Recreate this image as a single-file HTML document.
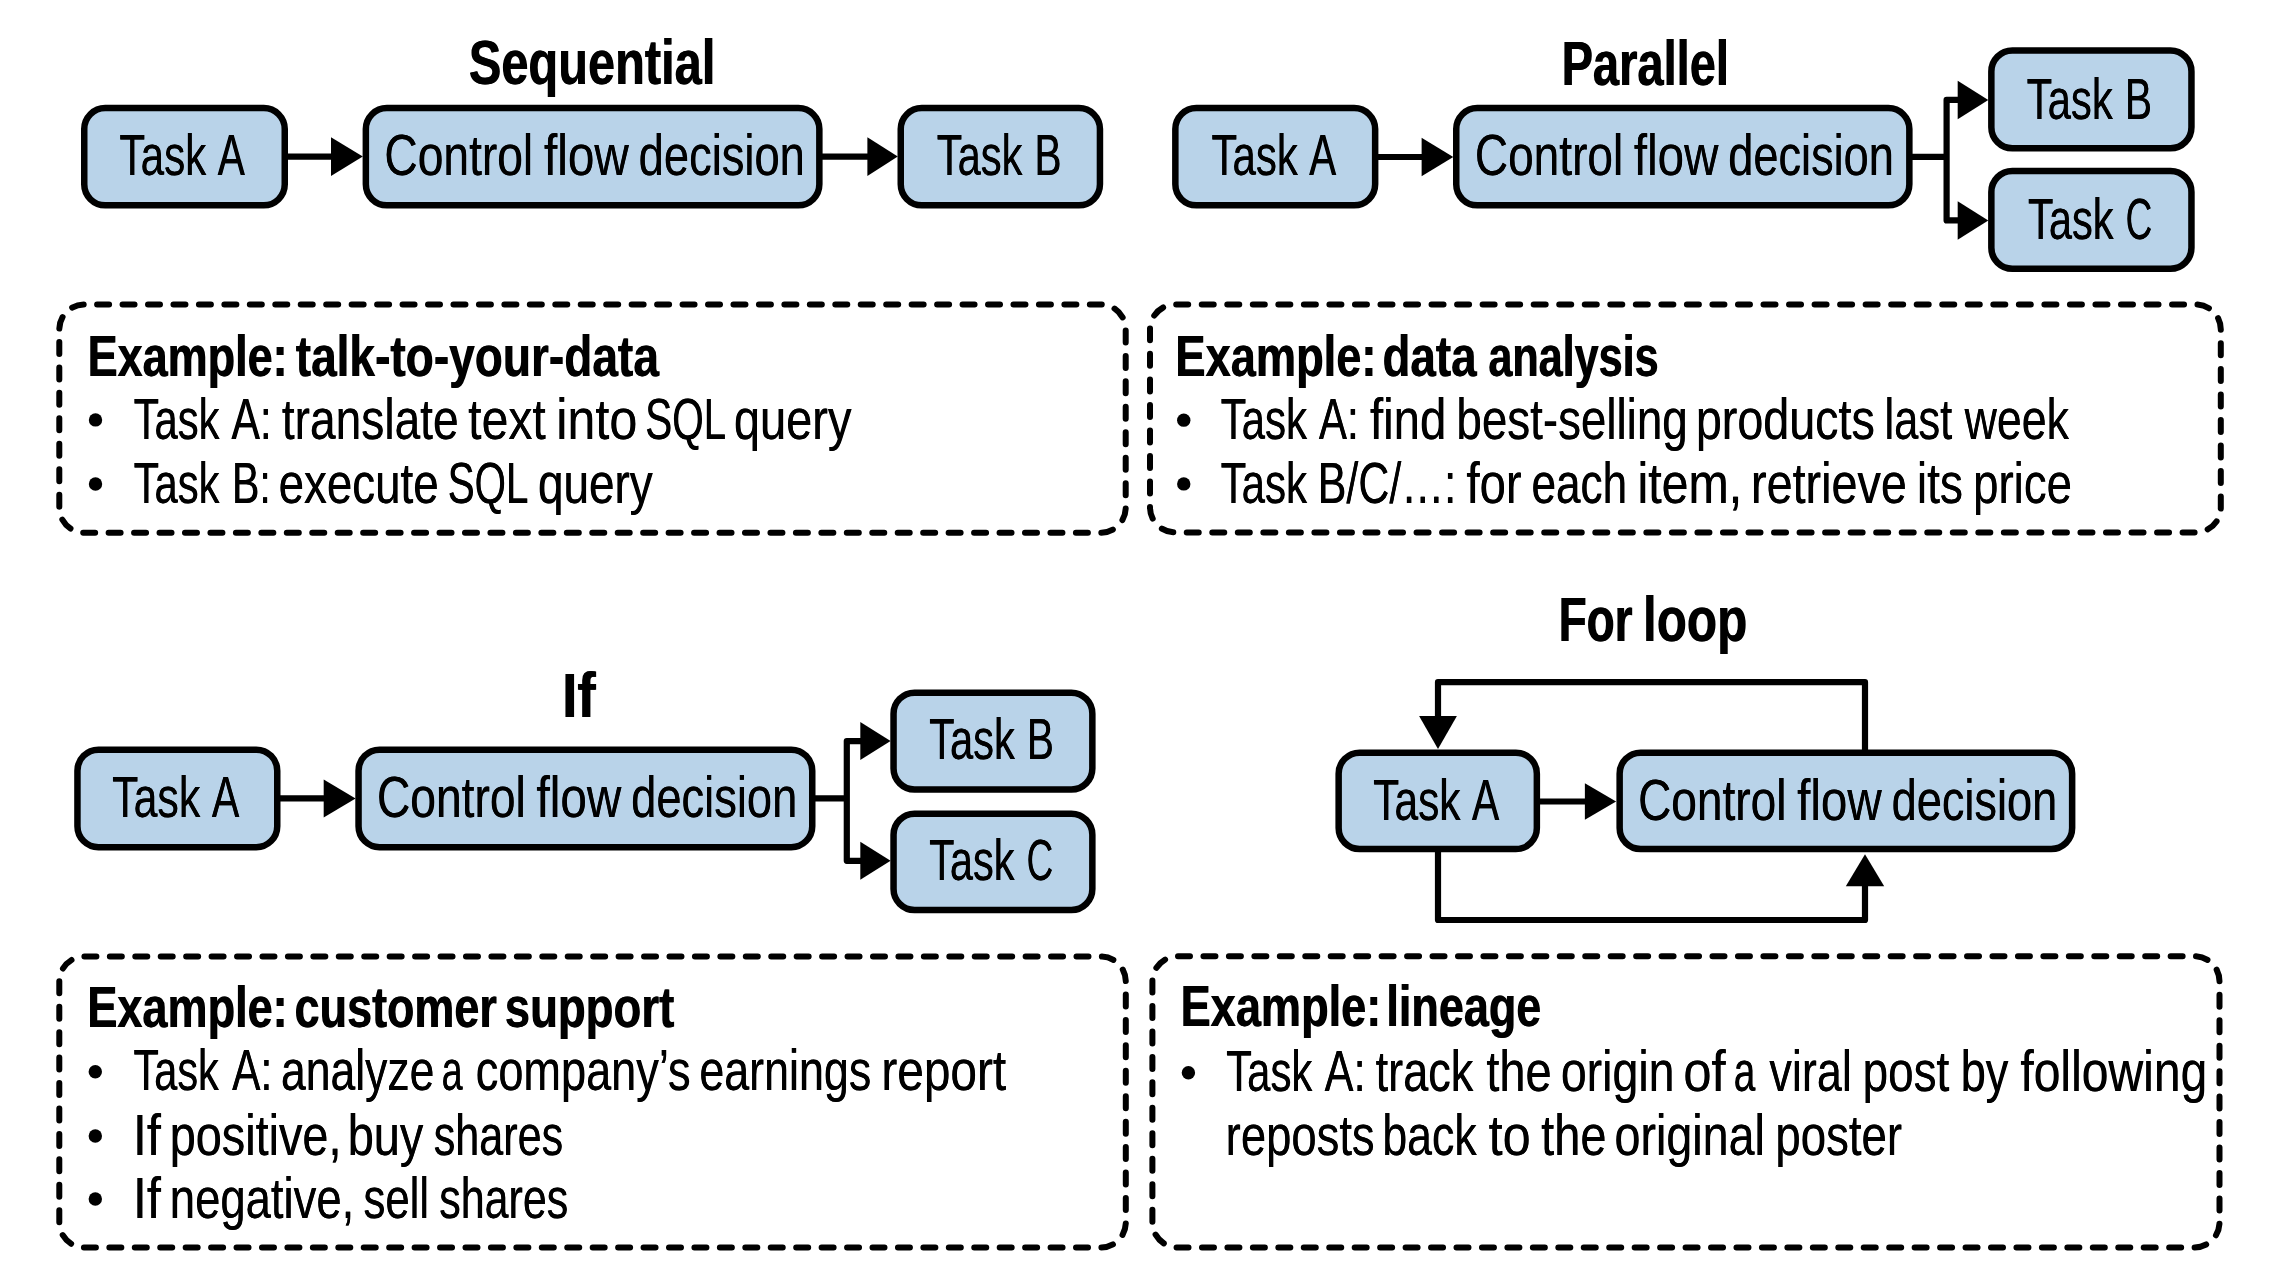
<!DOCTYPE html>
<html><head><meta charset="utf-8"><title>Control flow patterns</title>
<style>
html,body{margin:0;padding:0;background:#fff;width:2280px;height:1284px;overflow:hidden}
svg{display:block;will-change:transform}
.b{fill:#b9d3e9;stroke:#000;stroke-width:6.5}
.l{fill:none;stroke:#000;stroke-width:6.2;stroke-linejoin:round}
.h{fill:#000;stroke:none}
.d{fill:none;stroke:#000;stroke-width:6;stroke-linecap:round}
text{font-family:"Liberation Sans",sans-serif;fill:#000}
.t{font-weight:400;word-spacing:0px}
.tb{font-weight:700;word-spacing:0px}
</style></head>
<body><svg width="2280" height="1284" viewBox="0 0 2280 1284">
<rect x="84.25" y="108.05" width="200.50" height="97.30" rx="21" ry="21" class="b"/>
<rect x="365.85" y="108.05" width="453.50" height="97.30" rx="21" ry="21" class="b"/>
<rect x="900.75" y="108.05" width="199.20" height="97.30" rx="21" ry="21" class="b"/>
<path d="M286.00 156.60 L333.00 156.60" class="l"/>
<path d="M331.00 137.30 L362.80 156.60 L331.00 175.90Z" class="h"/>
<path d="M820.00 156.60 L869.00 156.60" class="l"/>
<path d="M867.40 137.30 L897.80 156.60 L867.40 175.90Z" class="h"/>
<rect x="1175.35" y="108.05" width="199.80" height="97.30" rx="21" ry="21" class="b"/>
<rect x="1456.25" y="108.05" width="453.10" height="97.30" rx="21" ry="21" class="b"/>
<rect x="1991.35" y="50.45" width="200.10" height="97.80" rx="21" ry="21" class="b"/>
<rect x="1991.35" y="170.95" width="200.10" height="97.80" rx="21" ry="21" class="b"/>
<path d="M1376.00 157.00 L1423.00 157.00" class="l"/>
<path d="M1421.60 137.70 L1453.30 157.00 L1421.60 176.30Z" class="h"/>
<path d="M1910.00 156.80 L1946.60 156.80" class="l"/>
<path d="M1960.00 99.90 L1946.60 99.90 L1946.60 220.40 L1960.00 220.40" class="l"/>
<path d="M1957.70 80.65 L1988.30 99.90 L1957.70 119.15Z" class="h"/>
<path d="M1957.70 201.15 L1988.30 220.40 L1957.70 239.65Z" class="h"/>
<rect x="77.45" y="749.65" width="199.80" height="97.50" rx="21" ry="21" class="b"/>
<rect x="358.55" y="749.65" width="453.70" height="97.50" rx="21" ry="21" class="b"/>
<rect x="893.55" y="692.65" width="198.80" height="96.90" rx="21" ry="21" class="b"/>
<rect x="893.55" y="813.75" width="198.80" height="96.30" rx="21" ry="21" class="b"/>
<path d="M278.00 798.40 L325.00 798.40" class="l"/>
<path d="M323.70 779.40 L355.60 798.40 L323.70 817.40Z" class="h"/>
<path d="M813.00 798.30 L846.80 798.30" class="l"/>
<path d="M862.00 741.10 L846.80 741.10 L846.80 860.80 L862.00 860.80" class="l"/>
<path d="M860.30 722.10 L890.60 741.10 L860.30 760.10Z" class="h"/>
<path d="M860.30 841.80 L890.60 860.80 L860.30 879.80Z" class="h"/>
<rect x="1338.65" y="752.65" width="198.20" height="96.40" rx="21" ry="21" class="b"/>
<rect x="1619.65" y="752.65" width="452.50" height="96.40" rx="21" ry="21" class="b"/>
<path d="M1538.00 801.50 L1586.00 801.50" class="l"/>
<path d="M1584.90 783.25 L1616.10 801.50 L1584.90 819.75Z" class="h"/>
<path d="M1865.00 752.00 L1865.00 682.20 L1438.00 682.20 L1438.00 718.00" class="l"/>
<path d="M1419.10 716.00 L1438.00 749.00 L1456.90 716.00Z" class="h"/>
<path d="M1438.00 850.00 L1438.00 920.00 L1865.00 920.00 L1865.00 884.00" class="l"/>
<path d="M1845.80 886.20 L1865.00 854.20 L1884.20 886.20Z" class="h"/>
<path d="M84.30 304.40 H1100.70 A25 25 0 0 1 1125.70 329.40 V507.70 A25 25 0 0 1 1100.70 532.70 H84.30 A25 25 0 0 1 59.30 507.70 V329.40 A25 25 0 0 1 84.30 304.40Z" pathLength="2546.48" class="d" stroke-dasharray="12 13.465" stroke-dashoffset="-12.80"/>
<path d="M1175.00 304.50 H2195.80 A25 25 0 0 1 2220.80 329.50 V507.40 A25 25 0 0 1 2195.80 532.40 H1175.00 A25 25 0 0 1 1150.00 507.40 V329.50 A25 25 0 0 1 1175.00 304.50Z" pathLength="2554.48" class="d" stroke-dasharray="12 13.545" stroke-dashoffset="-1.20"/>
<path d="M84.30 956.50 H1100.80 A25 25 0 0 1 1125.80 981.50 V1222.50 A25 25 0 0 1 1100.80 1247.50 H84.30 A25 25 0 0 1 59.30 1222.50 V981.50 A25 25 0 0 1 84.30 956.50Z" pathLength="2672.08" class="d" stroke-dasharray="12 13.448" stroke-dashoffset="-0.10"/>
<path d="M1177.40 956.30 H2194.50 A25 25 0 0 1 2219.50 981.30 V1222.40 A25 25 0 0 1 2194.50 1247.40 H1177.40 A25 25 0 0 1 1152.40 1222.40 V981.30 A25 25 0 0 1 1177.40 956.30Z" pathLength="2673.48" class="d" stroke-dasharray="12 13.462" stroke-dashoffset="-0.60"/>
<circle cx="95.5" cy="419.9" r="6.7"/>
<circle cx="95.5" cy="484.0" r="6.7"/>
<circle cx="1183.75" cy="420.15" r="6.7"/>
<circle cx="1183.75" cy="483.9" r="6.7"/>
<circle cx="95.3" cy="1071.7" r="6.7"/>
<circle cx="95.3" cy="1136.0" r="6.7"/>
<circle cx="95.3" cy="1199.0" r="6.7"/>
<circle cx="1188.4" cy="1072.7" r="6.7"/>
<text transform="translate(468.45 84.30) scale(0.7741 1)" font-size="63" class="tb">Sequential</text>
<text transform="translate(469.15 84.30) scale(0.7741 1)" font-size="63" class="tb">Sequential</text>
<text transform="translate(1561.21 84.60) scale(0.7472 1)" font-size="63" class="tb">Parallel</text>
<text transform="translate(1561.91 84.60) scale(0.7472 1)" font-size="63" class="tb">Parallel</text>
<text transform="translate(561.81 717.40) scale(0.8714 1)" font-size="63" class="tb">If</text>
<text transform="translate(562.51 717.40) scale(0.8714 1)" font-size="63" class="tb">If</text>
<text transform="translate(1558.18 641.10) scale(0.7299 1)" font-size="63" class="tb">For</text>
<text transform="translate(1558.88 641.10) scale(0.7299 1)" font-size="63" class="tb">For</text>
<text transform="translate(1642.66 641.10) scale(0.7843 1)" font-size="63" class="tb">loop</text>
<text transform="translate(1643.36 641.10) scale(0.7843 1)" font-size="63" class="tb">loop</text>
<text transform="translate(119.26 174.70) scale(0.7415 1)" font-size="57" class="t">Task</text>
<text transform="translate(119.61 174.70) scale(0.7415 1)" font-size="57" class="t">Task</text>
<text transform="translate(217.58 174.70) scale(0.7124 1)" font-size="57" class="t">A</text>
<text transform="translate(217.93 174.70) scale(0.7124 1)" font-size="57" class="t">A</text>
<text transform="translate(384.18 174.70) scale(0.8104 1)" font-size="57" class="t">Control</text>
<text transform="translate(384.53 174.70) scale(0.8104 1)" font-size="57" class="t">Control</text>
<text transform="translate(543.80 174.70) scale(0.8368 1)" font-size="57" class="t">flow</text>
<text transform="translate(544.15 174.70) scale(0.8368 1)" font-size="57" class="t">flow</text>
<text transform="translate(638.51 174.70) scale(0.7949 1)" font-size="57" class="t">decision</text>
<text transform="translate(638.86 174.70) scale(0.7949 1)" font-size="57" class="t">decision</text>
<text transform="translate(936.57 174.70) scale(0.7315 1)" font-size="57" class="t">Task</text>
<text transform="translate(936.92 174.70) scale(0.7315 1)" font-size="57" class="t">Task</text>
<text transform="translate(1034.35 174.70) scale(0.7113 1)" font-size="57" class="t">B</text>
<text transform="translate(1034.70 174.70) scale(0.7113 1)" font-size="57" class="t">B</text>
<text transform="translate(1211.36 174.70) scale(0.7368 1)" font-size="57" class="t">Task</text>
<text transform="translate(1211.71 174.70) scale(0.7368 1)" font-size="57" class="t">Task</text>
<text transform="translate(1309.05 174.70) scale(0.7078 1)" font-size="57" class="t">A</text>
<text transform="translate(1309.40 174.70) scale(0.7078 1)" font-size="57" class="t">A</text>
<text transform="translate(1474.69 174.70) scale(0.8075 1)" font-size="57" class="t">Control</text>
<text transform="translate(1475.04 174.70) scale(0.8075 1)" font-size="57" class="t">Control</text>
<text transform="translate(1633.73 174.70) scale(0.8337 1)" font-size="57" class="t">flow</text>
<text transform="translate(1634.08 174.70) scale(0.8337 1)" font-size="57" class="t">flow</text>
<text transform="translate(1728.10 174.70) scale(0.7920 1)" font-size="57" class="t">decision</text>
<text transform="translate(1728.45 174.70) scale(0.7920 1)" font-size="57" class="t">decision</text>
<text transform="translate(2026.46 118.70) scale(0.7351 1)" font-size="57" class="t">Task</text>
<text transform="translate(2026.81 118.70) scale(0.7351 1)" font-size="57" class="t">Task</text>
<text transform="translate(2124.73 118.70) scale(0.7148 1)" font-size="57" class="t">B</text>
<text transform="translate(2125.08 118.70) scale(0.7148 1)" font-size="57" class="t">B</text>
<text transform="translate(2027.87 238.60) scale(0.7297 1)" font-size="57" class="t">Task</text>
<text transform="translate(2028.22 238.60) scale(0.7297 1)" font-size="57" class="t">Task</text>
<text transform="translate(2125.51 238.60) scale(0.6473 1)" font-size="57" class="t">C</text>
<text transform="translate(2125.86 238.60) scale(0.6473 1)" font-size="57" class="t">C</text>
<text transform="translate(111.95 816.70) scale(0.7523 1)" font-size="57" class="t">Task</text>
<text transform="translate(112.30 816.70) scale(0.7523 1)" font-size="57" class="t">Task</text>
<text transform="translate(211.68 816.70) scale(0.7228 1)" font-size="57" class="t">A</text>
<text transform="translate(212.03 816.70) scale(0.7228 1)" font-size="57" class="t">A</text>
<text transform="translate(376.78 816.70) scale(0.8100 1)" font-size="57" class="t">Control</text>
<text transform="translate(377.13 816.70) scale(0.8100 1)" font-size="57" class="t">Control</text>
<text transform="translate(536.32 816.70) scale(0.8364 1)" font-size="57" class="t">flow</text>
<text transform="translate(536.67 816.70) scale(0.8364 1)" font-size="57" class="t">flow</text>
<text transform="translate(630.99 816.70) scale(0.7945 1)" font-size="57" class="t">decision</text>
<text transform="translate(631.34 816.70) scale(0.7945 1)" font-size="57" class="t">decision</text>
<text transform="translate(928.97 758.80) scale(0.7315 1)" font-size="57" class="t">Task</text>
<text transform="translate(929.32 758.80) scale(0.7315 1)" font-size="57" class="t">Task</text>
<text transform="translate(1026.75 758.80) scale(0.7113 1)" font-size="57" class="t">B</text>
<text transform="translate(1027.10 758.80) scale(0.7113 1)" font-size="57" class="t">B</text>
<text transform="translate(928.97 879.80) scale(0.7285 1)" font-size="57" class="t">Task</text>
<text transform="translate(929.32 879.80) scale(0.7285 1)" font-size="57" class="t">Task</text>
<text transform="translate(1026.45 879.80) scale(0.6462 1)" font-size="57" class="t">C</text>
<text transform="translate(1026.80 879.80) scale(0.6462 1)" font-size="57" class="t">C</text>
<text transform="translate(1373.05 819.70) scale(0.7451 1)" font-size="57" class="t">Task</text>
<text transform="translate(1373.40 819.70) scale(0.7451 1)" font-size="57" class="t">Task</text>
<text transform="translate(1471.85 819.70) scale(0.7159 1)" font-size="57" class="t">A</text>
<text transform="translate(1472.20 819.70) scale(0.7159 1)" font-size="57" class="t">A</text>
<text transform="translate(1637.88 819.80) scale(0.8079 1)" font-size="57" class="t">Control</text>
<text transform="translate(1638.23 819.80) scale(0.8079 1)" font-size="57" class="t">Control</text>
<text transform="translate(1797.01 819.80) scale(0.8341 1)" font-size="57" class="t">flow</text>
<text transform="translate(1797.36 819.80) scale(0.8341 1)" font-size="57" class="t">flow</text>
<text transform="translate(1891.42 819.80) scale(0.7924 1)" font-size="57" class="t">decision</text>
<text transform="translate(1891.77 819.80) scale(0.7924 1)" font-size="57" class="t">decision</text>
<text transform="translate(87.23 375.90) scale(0.7898 1)" font-size="57" class="tb">Example:</text>
<text transform="translate(87.93 375.90) scale(0.7898 1)" font-size="57" class="tb">Example:</text>
<text transform="translate(295.40 375.90) scale(0.8078 1)" font-size="57" class="tb">talk-to-your-data</text>
<text transform="translate(296.10 375.90) scale(0.8078 1)" font-size="57" class="tb">talk-to-your-data</text>
<text transform="translate(1175.12 376.20) scale(0.7931 1)" font-size="57" class="tb">Example:</text>
<text transform="translate(1175.82 376.20) scale(0.7931 1)" font-size="57" class="tb">Example:</text>
<text transform="translate(1382.15 376.20) scale(0.8022 1)" font-size="57" class="tb">data</text>
<text transform="translate(1382.85 376.20) scale(0.8022 1)" font-size="57" class="tb">data</text>
<text transform="translate(1487.99 376.20) scale(0.7570 1)" font-size="57" class="tb">analysis</text>
<text transform="translate(1488.69 376.20) scale(0.7570 1)" font-size="57" class="tb">analysis</text>
<text transform="translate(86.93 1027.40) scale(0.7910 1)" font-size="57" class="tb">Example:</text>
<text transform="translate(87.63 1027.40) scale(0.7910 1)" font-size="57" class="tb">Example:</text>
<text transform="translate(294.32 1027.40) scale(0.7882 1)" font-size="57" class="tb">customer</text>
<text transform="translate(295.02 1027.40) scale(0.7882 1)" font-size="57" class="tb">customer</text>
<text transform="translate(504.40 1027.40) scale(0.7990 1)" font-size="57" class="tb">support</text>
<text transform="translate(505.10 1027.40) scale(0.7990 1)" font-size="57" class="tb">support</text>
<text transform="translate(1180.22 1026.30) scale(0.7922 1)" font-size="57" class="tb">Example:</text>
<text transform="translate(1180.92 1026.30) scale(0.7922 1)" font-size="57" class="tb">Example:</text>
<text transform="translate(1386.05 1026.30) scale(0.7885 1)" font-size="57" class="tb">lineage</text>
<text transform="translate(1386.75 1026.30) scale(0.7885 1)" font-size="57" class="tb">lineage</text>
<text transform="translate(133.47 438.50) scale(0.7323 1)" font-size="57" class="t">Task</text>
<text transform="translate(133.82 438.50) scale(0.7323 1)" font-size="57" class="t">Task</text>
<text transform="translate(231.30 438.50) scale(0.7480 1)" font-size="57" class="t">A:</text>
<text transform="translate(231.65 438.50) scale(0.7480 1)" font-size="57" class="t">A:</text>
<text transform="translate(281.70 438.50) scale(0.8085 1)" font-size="57" class="t">translate</text>
<text transform="translate(282.05 438.50) scale(0.8085 1)" font-size="57" class="t">translate</text>
<text transform="translate(468.00 438.50) scale(0.8451 1)" font-size="57" class="t">text</text>
<text transform="translate(468.35 438.50) scale(0.8451 1)" font-size="57" class="t">text</text>
<text transform="translate(556.05 438.50) scale(0.8833 1)" font-size="57" class="t">into</text>
<text transform="translate(556.40 438.50) scale(0.8833 1)" font-size="57" class="t">into</text>
<text transform="translate(645.08 438.50) scale(0.7095 1)" font-size="57" class="t">SQL</text>
<text transform="translate(645.43 438.50) scale(0.7095 1)" font-size="57" class="t">SQL</text>
<text transform="translate(733.65 438.50) scale(0.8252 1)" font-size="57" class="t">query</text>
<text transform="translate(734.00 438.50) scale(0.8252 1)" font-size="57" class="t">query</text>
<text transform="translate(133.47 502.60) scale(0.7323 1)" font-size="57" class="t">Task</text>
<text transform="translate(133.82 502.60) scale(0.7323 1)" font-size="57" class="t">Task</text>
<text transform="translate(231.82 502.60) scale(0.7211 1)" font-size="57" class="t">B:</text>
<text transform="translate(232.17 502.60) scale(0.7211 1)" font-size="57" class="t">B:</text>
<text transform="translate(278.40 502.60) scale(0.8018 1)" font-size="57" class="t">execute</text>
<text transform="translate(278.75 502.60) scale(0.8018 1)" font-size="57" class="t">execute</text>
<text transform="translate(447.59 502.60) scale(0.7068 1)" font-size="57" class="t">SQL</text>
<text transform="translate(447.94 502.60) scale(0.7068 1)" font-size="57" class="t">SQL</text>
<text transform="translate(537.79 502.60) scale(0.8046 1)" font-size="57" class="t">query</text>
<text transform="translate(538.14 502.60) scale(0.8046 1)" font-size="57" class="t">query</text>
<text transform="translate(1220.46 438.75) scale(0.7375 1)" font-size="57" class="t">Task</text>
<text transform="translate(1220.81 438.75) scale(0.7375 1)" font-size="57" class="t">Task</text>
<text transform="translate(1318.70 438.75) scale(0.7398 1)" font-size="57" class="t">A:</text>
<text transform="translate(1319.05 438.75) scale(0.7398 1)" font-size="57" class="t">A:</text>
<text transform="translate(1369.80 438.75) scale(0.8309 1)" font-size="57" class="t">find</text>
<text transform="translate(1370.15 438.75) scale(0.8309 1)" font-size="57" class="t">find</text>
<text transform="translate(1456.19 438.75) scale(0.8027 1)" font-size="57" class="t">best-selling</text>
<text transform="translate(1456.54 438.75) scale(0.8027 1)" font-size="57" class="t">best-selling</text>
<text transform="translate(1695.64 438.75) scale(0.8189 1)" font-size="57" class="t">products</text>
<text transform="translate(1695.99 438.75) scale(0.8189 1)" font-size="57" class="t">products</text>
<text transform="translate(1884.31 438.75) scale(0.7645 1)" font-size="57" class="t">last</text>
<text transform="translate(1884.66 438.75) scale(0.7645 1)" font-size="57" class="t">last</text>
<text transform="translate(1964.50 438.75) scale(0.7838 1)" font-size="57" class="t">week</text>
<text transform="translate(1964.85 438.75) scale(0.7838 1)" font-size="57" class="t">week</text>
<text transform="translate(1220.46 502.50) scale(0.7375 1)" font-size="57" class="t">Task</text>
<text transform="translate(1220.81 502.50) scale(0.7375 1)" font-size="57" class="t">Task</text>
<text transform="translate(1317.59 502.50) scale(0.7534 1)" font-size="57" class="t">B/C/…:</text>
<text transform="translate(1317.94 502.50) scale(0.7534 1)" font-size="57" class="t">B/C/…:</text>
<text transform="translate(1466.30 502.50) scale(0.8280 1)" font-size="57" class="t">for</text>
<text transform="translate(1466.65 502.50) scale(0.8280 1)" font-size="57" class="t">for</text>
<text transform="translate(1531.35 502.50) scale(0.7733 1)" font-size="57" class="t">each</text>
<text transform="translate(1531.70 502.50) scale(0.7733 1)" font-size="57" class="t">each</text>
<text transform="translate(1637.36 502.50) scale(0.8470 1)" font-size="57" class="t">item,</text>
<text transform="translate(1637.71 502.50) scale(0.8470 1)" font-size="57" class="t">item,</text>
<text transform="translate(1750.84 502.50) scale(0.8197 1)" font-size="57" class="t">retrieve</text>
<text transform="translate(1751.19 502.50) scale(0.8197 1)" font-size="57" class="t">retrieve</text>
<text transform="translate(1916.67 502.50) scale(0.8106 1)" font-size="57" class="t">its</text>
<text transform="translate(1917.02 502.50) scale(0.8106 1)" font-size="57" class="t">its</text>
<text transform="translate(1973.00 502.50) scale(0.7996 1)" font-size="57" class="t">price</text>
<text transform="translate(1973.35 502.50) scale(0.7996 1)" font-size="57" class="t">price</text>
<text transform="translate(133.37 1090.30) scale(0.7272 1)" font-size="57" class="t">Task</text>
<text transform="translate(133.72 1090.30) scale(0.7272 1)" font-size="57" class="t">Task</text>
<text transform="translate(232.00 1090.30) scale(0.7459 1)" font-size="57" class="t">A:</text>
<text transform="translate(232.35 1090.30) scale(0.7459 1)" font-size="57" class="t">A:</text>
<text transform="translate(280.84 1090.30) scale(0.7810 1)" font-size="57" class="t">analyze</text>
<text transform="translate(281.19 1090.30) scale(0.7810 1)" font-size="57" class="t">analyze</text>
<text transform="translate(441.41 1090.30) scale(0.6629 1)" font-size="57" class="t">a</text>
<text transform="translate(441.76 1090.30) scale(0.6629 1)" font-size="57" class="t">a</text>
<text transform="translate(475.62 1090.30) scale(0.7916 1)" font-size="57" class="t">company’s</text>
<text transform="translate(475.97 1090.30) scale(0.7916 1)" font-size="57" class="t">company’s</text>
<text transform="translate(699.13 1090.30) scale(0.7867 1)" font-size="57" class="t">earnings</text>
<text transform="translate(699.48 1090.30) scale(0.7867 1)" font-size="57" class="t">earnings</text>
<text transform="translate(881.18 1090.30) scale(0.8387 1)" font-size="57" class="t">report</text>
<text transform="translate(881.53 1090.30) scale(0.8387 1)" font-size="57" class="t">report</text>
<text transform="translate(132.66 1154.60) scale(0.8870 1)" font-size="57" class="t">If</text>
<text transform="translate(133.01 1154.60) scale(0.8870 1)" font-size="57" class="t">If</text>
<text transform="translate(169.54 1154.60) scale(0.8216 1)" font-size="57" class="t">positive,</text>
<text transform="translate(169.89 1154.60) scale(0.8216 1)" font-size="57" class="t">positive,</text>
<text transform="translate(347.53 1154.60) scale(0.8230 1)" font-size="57" class="t">buy</text>
<text transform="translate(347.88 1154.60) scale(0.8230 1)" font-size="57" class="t">buy</text>
<text transform="translate(433.54 1154.60) scale(0.7568 1)" font-size="57" class="t">shares</text>
<text transform="translate(433.89 1154.60) scale(0.7568 1)" font-size="57" class="t">shares</text>
<text transform="translate(132.66 1217.60) scale(0.8870 1)" font-size="57" class="t">If</text>
<text transform="translate(133.01 1217.60) scale(0.8870 1)" font-size="57" class="t">If</text>
<text transform="translate(169.61 1217.60) scale(0.7975 1)" font-size="57" class="t">negative,</text>
<text transform="translate(169.96 1217.60) scale(0.7975 1)" font-size="57" class="t">negative,</text>
<text transform="translate(363.33 1217.60) scale(0.7673 1)" font-size="57" class="t">sell</text>
<text transform="translate(363.68 1217.60) scale(0.7673 1)" font-size="57" class="t">sell</text>
<text transform="translate(439.05 1217.60) scale(0.7539 1)" font-size="57" class="t">shares</text>
<text transform="translate(439.40 1217.60) scale(0.7539 1)" font-size="57" class="t">shares</text>
<text transform="translate(1226.07 1091.30) scale(0.7349 1)" font-size="57" class="t">Task</text>
<text transform="translate(1226.42 1091.30) scale(0.7349 1)" font-size="57" class="t">Task</text>
<text transform="translate(1324.50 1091.30) scale(0.7602 1)" font-size="57" class="t">A:</text>
<text transform="translate(1324.85 1091.30) scale(0.7602 1)" font-size="57" class="t">A:</text>
<text transform="translate(1375.50 1091.30) scale(0.7907 1)" font-size="57" class="t">track</text>
<text transform="translate(1375.85 1091.30) scale(0.7907 1)" font-size="57" class="t">track</text>
<text transform="translate(1486.20 1091.30) scale(0.8240 1)" font-size="57" class="t">the</text>
<text transform="translate(1486.55 1091.30) scale(0.8240 1)" font-size="57" class="t">the</text>
<text transform="translate(1560.67 1091.30) scale(0.8153 1)" font-size="57" class="t">origin</text>
<text transform="translate(1561.02 1091.30) scale(0.8153 1)" font-size="57" class="t">origin</text>
<text transform="translate(1683.22 1091.30) scale(0.8880 1)" font-size="57" class="t">of</text>
<text transform="translate(1683.57 1091.30) scale(0.8880 1)" font-size="57" class="t">of</text>
<text transform="translate(1733.56 1091.30) scale(0.6804 1)" font-size="57" class="t">a</text>
<text transform="translate(1733.91 1091.30) scale(0.6804 1)" font-size="57" class="t">a</text>
<text transform="translate(1769.20 1091.30) scale(0.7896 1)" font-size="57" class="t">viral</text>
<text transform="translate(1769.55 1091.30) scale(0.7896 1)" font-size="57" class="t">viral</text>
<text transform="translate(1862.38 1091.30) scale(0.8052 1)" font-size="57" class="t">post</text>
<text transform="translate(1862.73 1091.30) scale(0.8052 1)" font-size="57" class="t">post</text>
<text transform="translate(1960.53 1091.30) scale(0.7904 1)" font-size="57" class="t">by</text>
<text transform="translate(1960.88 1091.30) scale(0.7904 1)" font-size="57" class="t">by</text>
<text transform="translate(2020.20 1091.30) scale(0.8429 1)" font-size="57" class="t">following</text>
<text transform="translate(2020.55 1091.30) scale(0.8429 1)" font-size="57" class="t">following</text>
<text transform="translate(1225.51 1154.50) scale(0.7970 1)" font-size="57" class="t">reposts</text>
<text transform="translate(1225.86 1154.50) scale(0.7970 1)" font-size="57" class="t">reposts</text>
<text transform="translate(1382.15 1154.50) scale(0.7835 1)" font-size="57" class="t">back</text>
<text transform="translate(1382.50 1154.50) scale(0.7835 1)" font-size="57" class="t">back</text>
<text transform="translate(1488.50 1154.50) scale(0.8856 1)" font-size="57" class="t">to</text>
<text transform="translate(1488.85 1154.50) scale(0.8856 1)" font-size="57" class="t">to</text>
<text transform="translate(1541.00 1154.50) scale(0.8240 1)" font-size="57" class="t">the</text>
<text transform="translate(1541.35 1154.50) scale(0.8240 1)" font-size="57" class="t">the</text>
<text transform="translate(1614.36 1154.50) scale(0.8183 1)" font-size="57" class="t">original</text>
<text transform="translate(1614.71 1154.50) scale(0.8183 1)" font-size="57" class="t">original</text>
<text transform="translate(1775.20 1154.50) scale(0.7997 1)" font-size="57" class="t">poster</text>
<text transform="translate(1775.55 1154.50) scale(0.7997 1)" font-size="57" class="t">poster</text>
</svg></body></html>
